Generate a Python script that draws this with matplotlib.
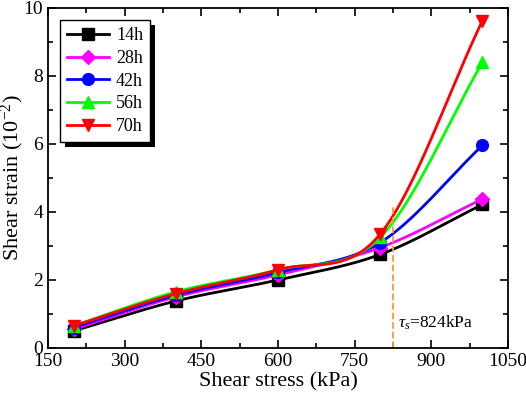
import numpy as np
import matplotlib
matplotlib.use("Agg")
import matplotlib.pyplot as plt
from matplotlib.ticker import MultipleLocator
from matplotlib.patches import Rectangle

plt.rcParams['font.family'] = ['Liberation Serif', 'DejaVu Serif']
plt.rcParams['mathtext.fontset'] = 'custom'
plt.rcParams['mathtext.rm'] = 'Liberation Serif'
plt.rcParams['mathtext.it'] = 'Liberation Serif:italic'
plt.rcParams['mathtext.bf'] = 'Liberation Serif:bold'

stress = [200, 400, 600, 800, 1000]
s14 = [0.50, 1.38, 2.00, 2.75, 4.22]
s28 = [0.55, 1.50, 2.15, 2.95, 4.38]
s42 = [0.60, 1.55, 2.22, 3.10, 5.96]
s56 = [0.65, 1.65, 2.30, 3.25, 8.40]
s70 = [0.65, 1.60, 2.30, 3.35, 9.63]
labels = ['14h', '28h', '42h', '56h', '70h']
colors = ['black', '#ff00ff', '#0000ff', '#00ff00', '#ff0000']
markers = ['s', 'D', 'o', '^', 'v']
tau_s = 824


def catmull_rom(x, y, n=60):
    x = np.asarray(x, float); y = np.asarray(y, float)
    k = len(x)
    m = np.empty(k)
    m[0] = (y[1] - y[0]) / (x[1] - x[0])
    m[-1] = (y[-1] - y[-2]) / (x[-1] - x[-2])
    for i in range(1, k - 1):
        m[i] = (y[i + 1] - y[i - 1]) / (x[i + 1] - x[i - 1])
    xs_all, ys_all = [], []
    for i in range(k - 1):
        h = x[i + 1] - x[i]
        t = np.linspace(0, 1, n)
        h00 = 2 * t**3 - 3 * t**2 + 1
        h10 = t**3 - 2 * t**2 + t
        h01 = -2 * t**3 + 3 * t**2
        h11 = t**3 - t**2
        ys_all.append(h00 * y[i] + h10 * h * m[i] + h01 * y[i + 1] + h11 * h * m[i + 1])
        xs_all.append(x[i] + t * h)
    return np.concatenate(xs_all), np.concatenate(ys_all)


fig = plt.figure(figsize=(5.26, 3.99), dpi=100)
ax = fig.add_axes([0.0913, 0.128, 0.8745, 0.852])

for ys_, lab, col, mk in zip([s14, s28, s42, s56, s70], labels, colors, markers):
    xs, yy = catmull_rom(stress, ys_)
    ms = 7.5 if mk == 'D' else 8.5
    ax.plot(xs, yy, color=col, lw=2)
    ax.plot(stress, ys_, ls='none', marker=mk, color=col, ms=ms)
    ax.plot([], [], color=col, lw=2, marker=mk, ms=ms, label=lab)

ax.plot([tau_s, tau_s], [0, 4.2], ls='--', color='#ff9933', lw=1.3)
ax.text(tau_s + 10, 0.75, r'$\tau_s$=824kPa', fontsize=12.5, va='center', ha='left')

ax.set_xlim(150, 1050)
ax.set_ylim(0, 10)
ax.xaxis.set_major_locator(MultipleLocator(150))
ax.xaxis.set_minor_locator(MultipleLocator(75))
ax.yaxis.set_major_locator(MultipleLocator(2))
ax.yaxis.set_minor_locator(MultipleLocator(1))
ax.tick_params(which='both', direction='in', top=True, right=True, labelsize=14, width=1.2)
ax.tick_params(which='major', length=6)
ax.tick_params(which='minor', length=3.5)
for sp in ax.spines.values():
    sp.set_linewidth(1.3)
ax.set_xlabel('Shear stress (kPa)', fontsize=16, labelpad=2)
ax.set_ylabel('Shear strain (10$^{\\mathrm{-2}}$)', fontsize=16)
ax.yaxis.set_label_coords(-0.048, 0.5)

leg = ax.legend(loc='upper left', bbox_to_anchor=(0.026, 0.965), borderaxespad=0,
                fontsize=13, frameon=True, fancybox=False, edgecolor='black', framealpha=1,
                handlelength=2.3, handletextpad=0.4, borderpad=0.4, labelspacing=0.32)
leg.get_frame().set_linewidth(1.0)
leg.set_zorder(6)

fig.canvas.draw()
bb = leg.get_frame().get_window_extent(fig.canvas.get_renderer())
inv = fig.transFigure.inverted()
(x0, y0), (x1, y1) = inv.transform([[bb.x0 + 5, bb.y0 - 5], [bb.x1 + 5, bb.y1 - 5]])
shadow = Rectangle((x0, y0), x1 - x0, y1 - y0, transform=fig.transFigure,
                   facecolor='black', edgecolor='none', zorder=5.5, clip_on=False)
ax.add_artist(shadow)
fig.savefig('out.png', dpi=100)
